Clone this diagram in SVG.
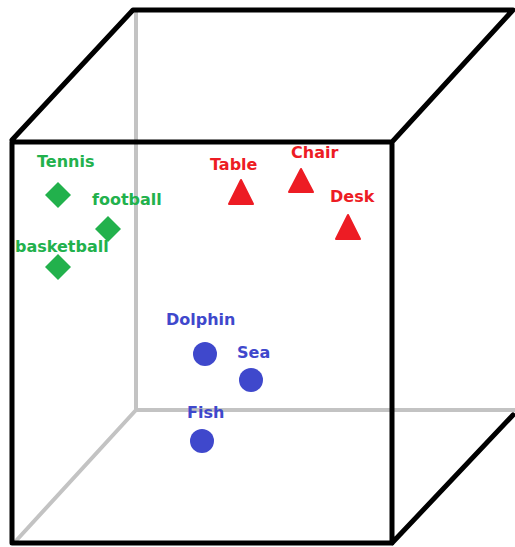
<svg xmlns="http://www.w3.org/2000/svg" width="515" height="547" viewBox="0 0 515 547">
<style>
.edge{fill:none;stroke:#000;stroke-width:5;stroke-linecap:round;stroke-linejoin:round}
.hidden{fill:none;stroke:#c3c3c3;stroke-width:4;stroke-linecap:round}
text{font-family:"DejaVu Sans",Verdana,sans-serif;font-weight:bold;font-size:16px}
.g{fill:#22b14c}.r{fill:#ed1c24}.b{fill:#3f48cc}
</style>
<rect width="515" height="547" fill="#fff"/>
<g id="connectors">
<path class="hidden" d="M136,10 V410 H515 M136,410 L14,543"/>
<path class="edge" d="M12,142 H392 V543 H12 Z M12,140 L133,10 H513 L392,142 M392,543 L513,415"/>
</g>
<g id="tennis"><text class="g" x="37" y="167">Tennis</text><path class="g" d="M58,182 L71,195 L58,208 L45,195 Z"/></g>
<g id="football"><text class="g" x="92" y="205">football</text><path class="g" d="M108,216 L121,229 L108,242 L95,229 Z"/></g>
<g id="basketball"><text class="g" x="15" y="252">basketball</text><path class="g" d="M58,254 L71,267 L58,280 L45,267 Z"/></g>
<g id="table"><text class="r" x="210" y="170">Table</text><path class="r" d="M241,180 L253,204 H229 Z" stroke="#ed1c24" stroke-width="2" stroke-linejoin="round"/></g>
<g id="chair"><text class="r" x="291" y="158">Chair</text><path class="r" d="M301,169 L313,192 H289 Z" stroke="#ed1c24" stroke-width="2" stroke-linejoin="round"/></g>
<g id="desk"><text class="r" x="330" y="202">Desk</text><path class="r" d="M348,215 L360,239 H336 Z" stroke="#ed1c24" stroke-width="2" stroke-linejoin="round"/></g>
<g id="dolphin"><text class="b" x="166" y="325">Dolphin</text><circle class="b" cx="205" cy="354" r="12"/></g>
<g id="sea"><text class="b" x="237" y="358">Sea</text><circle class="b" cx="251" cy="380" r="12"/></g>
<g id="fish"><text class="b" x="187" y="418">Fish</text><circle class="b" cx="202" cy="441" r="12"/></g>
</svg>
